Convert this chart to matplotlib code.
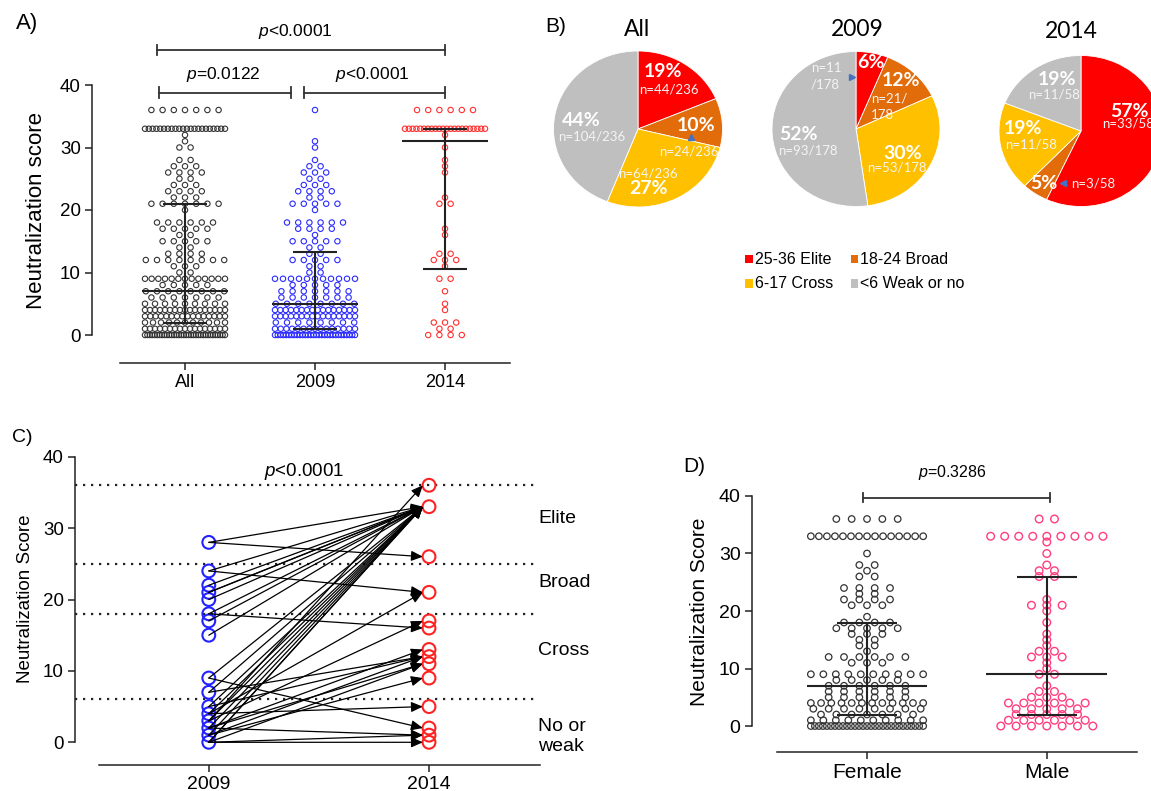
import numpy as np
import matplotlib
matplotlib.use("Agg")
import matplotlib.pyplot as plt
from matplotlib.patches import Rectangle

plt.rcParams['font.family'] = ['Liberation Sans', 'DejaVu Sans']
plt.rcParams['mathtext.fontset'] = 'custom'
plt.rcParams['mathtext.rm'] = 'Liberation Sans'
plt.rcParams['mathtext.it'] = 'Liberation Sans:italic'

# ---- data: neutralization score -> number of subjects ----
scores_2009 = [36, 31, 30, 28, 27, 26, 25, 24, 23, 22, 21, 20, 18, 17, 16, 15, 14, 13, 12, 11, 10, 9, 8, 7, 6, 5, 4, 3, 2, 1, 0]
counts_2009 = [1, 1, 1, 1, 2, 3, 2, 3, 4, 2, 5, 1, 6, 4, 1, 5, 2, 2, 5, 2, 2, 11, 5, 7, 7, 8, 16, 16, 8, 15, 30]

scores_2014 = [36, 33, 32, 30, 28, 27, 26, 22, 21, 17, 16, 13, 12, 11, 9, 7, 5, 4, 2, 1, 0]
counts_2014 = [6, 22, 1, 1, 1, 1, 1, 1, 2, 1, 1, 2, 3, 1, 2, 1, 1, 1, 3, 2, 4]

scores_female = [36, 33, 30, 28, 27, 26, 24, 23, 22, 21, 19, 18, 17, 16, 15, 14, 13, 12, 11, 9, 8, 7, 6, 5, 4, 3, 2, 1, 0]
counts_female = [5, 15, 1, 2, 1, 2, 4, 2, 4, 3, 1, 4, 5, 3, 2, 2, 1, 6, 3, 10, 5, 6, 6, 6, 12, 8, 7, 10, 29]

scores_male = [36, 33, 32, 30, 28, 27, 26, 22, 21, 20, 18, 16, 15, 14, 13, 12, 11, 10, 9, 7, 6, 5, 4, 3, 2, 1, 0]
counts_male = [2, 9, 1, 1, 1, 2, 2, 1, 3, 1, 1, 1, 1, 1, 2, 3, 1, 1, 2, 1, 2, 3, 6, 5, 5, 6, 7]

# paired subjects (panel C): score in 2009 -> score in 2014
pair_2009 = [28, 28, 24, 24, 22, 21, 21, 20, 18, 18, 17, 15, 9, 9, 7, 7, 5, 5, 4, 4, 4, 3, 3, 3, 2, 2, 2, 2, 1, 1, 1, 0, 0, 0, 0, 0]
pair_2014 = [33, 26, 33, 21, 33, 33, 33, 33, 33, 16, 33, 33, 33, 2, 12, 33, 33, 12, 33, 21, 5, 33, 36, 17, 33, 13, 11, 1, 33, 9, 12, 33, 0, 1, 33, 11]

groups_a = ['All', '2009', '2014']
groups_d = ['Female', 'Male']
cat_names = ['25-36 Elite', '18-24 Broad', '6-17 Cross', '<6 Weak or no']
cat_colors = ['#ff0000', '#e26b0a', '#ffc000', '#bfbfbf']
band_lines = [36, 25, 18, 6]
band_names = ['Elite', 'Broad', 'Cross', 'No or\nweak']

# All = 2009 + 2014
c09 = dict(zip(scores_2009, counts_2009))
c14 = dict(zip(scores_2014, counts_2014))
scores_all = sorted(set(scores_2009) | set(scores_2014), reverse=True)
counts_all = [c09.get(s, 0) + c14.get(s, 0) for s in scores_all]

W, H = 1151, 791
fig = plt.figure(figsize=(W / 100, H / 100), dpi=100)


def px_axes(l, t, r, b):
    return fig.add_axes([l / W, 1 - b / H, (r - l) / W, (b - t) / H])


def swarm(ax, x0, scores, counts, step, maxw, **kw):
    xs, ys = [], []
    for s, c in zip(scores, counts):
        if c == 1:
            off = np.array([0.0])
        else:
            d = min(step, maxw / (c - 1))
            off = (np.arange(c) - (c - 1) / 2) * d
        xs.extend(x0 + off)
        ys.extend([s] * c)
    ax.scatter(xs, ys, facecolors='none', clip_on=False, zorder=2, **kw)


def med_iqr(ax, x0, scores, counts, wmed, wcap, lw=1.5, color='#222222'):
    vals = np.repeat(scores, counts)
    q1, med, q3 = np.percentile(vals, [25, 50, 75], method='weibull')
    kw = dict(color=color, lw=lw, zorder=3, solid_capstyle='butt')
    ax.plot([x0 - wmed, x0 + wmed], [med, med], **kw)
    ax.plot([x0 - wcap, x0 + wcap], [q1, q1], **kw)
    ax.plot([x0 - wcap, x0 + wcap], [q3, q3], **kw)
    ax.plot([x0, x0], [q1, q3], **kw)


def bracket(ax, x1, x2, y, tick, color='#333333'):
    kw = dict(color=color, lw=1.3, clip_on=False)
    ax.plot([x1, x2], [y, y], **kw)
    ax.plot([x1, x1], [y - tick, y + tick], **kw)
    ax.plot([x2, x2], [y - tick, y + tick], **kw)


def prism_axes(ax, ybounds, xbounds, fs_y, fs_x):
    for s in ['top', 'right']:
        ax.spines[s].set_visible(False)
    for s in ['left', 'bottom']:
        ax.spines[s].set_linewidth(1.1)
        ax.spines[s].set_color('#222222')
    ax.spines['left'].set_bounds(*ybounds)
    ax.spines['bottom'].set_bounds(*xbounds)
    ax.set_yticks([0, 10, 20, 30, 40])
    ax.tick_params(axis='both', direction='out', length=5, width=1.1, color='#222222', pad=3)
    ax.tick_params(axis='y', labelsize=fs_y)
    ax.tick_params(axis='x', labelsize=fs_x)
    ax.patch.set_alpha(0)


# ---------------- Panel A ----------------
axA = px_axes(92, 22.5, 510, 363)
axA.set_xlim(-0.7154, 2.5)
axA.set_ylim(-4.48, 50)
prism_axes(axA, (0, 40), (-0.5, 2.5), 13.5, 13)
axA.set_xticks([0, 1, 2])
axA.set_xticklabels(groups_a)
axA.set_ylabel('Neutralization score', fontsize=16)
axA.yaxis.set_label_coords(-0.108, 0.449)

stepA, maxA = 11.2 / 130, 80 / 130
colsA = ['#333333', '#2b2bff', '#ff3030']
dataA = [(scores_all, counts_all), (scores_2009, counts_2009), (scores_2014, counts_2014)]
for i, (sc, ct) in enumerate(dataA):
    swarm(axA, i, sc, ct, stepA, maxA, s=15, edgecolors=colsA[i], linewidths=0.8)
    med_iqr(axA, i, sc, ct, 0.333, 0.167)

bracket(axA, -0.218, 2.0, 45.6, 0.75)
bracket(axA, -0.2, 0.815, 38.8, 0.9)
bracket(axA, 0.918, 2.0, 38.8, 0.9)
axA.text(0.846, 48.5, '$p$<0.0001', ha='center', va='center', fontsize=12.5)
axA.text(0.295, 41.6, '$p$=0.0122', ha='center', va='center', fontsize=12.5)
axA.text(1.444, 41.6, '$p$<0.0001', ha='center', va='center', fontsize=12.5)

# ---------------- Panel B (pies) ----------------
def cat_counts(scores, counts):
    out = [0, 0, 0, 0]
    for s, c in zip(scores, counts):
        if s >= 25:
            out[0] += c
        elif s >= 18:
            out[1] += c
        elif s >= 6:
            out[2] += c
        else:
            out[3] += c
    return out

pie_vals = [cat_counts(*d) for d in dataA]
pie_boxes = [(553.5, 51, 722.5, 207), (772, 51.5, 940, 206.5), (999, 55.5, 1163, 206.5)]
pie_title_xy = [(636.7, 30), (857, 30), (1071, 32)]
pct_pos = [[(0.295, 0.735), (0.69, 0.04), (0.128, -0.76), (-0.672, 0.115)],
           [(0.182, 0.855), (0.53, 0.63), (0.56, -0.32), (-0.685, -0.065)],
           [(0.594, 0.256), (-0.448, -0.693), (-0.707, 0.036), (-0.29, 0.685)]]
n_pos = [[(0.366, 0.509, 'center'), (0.60, -0.29, 'center'), (0.118, -0.568, 'center'), (-0.549, -0.09, 'center')],
         [(-0.54, 0.675, 'left'), (0.18, 0.285, 'left'), (0.488, -0.494, 'center'), (-0.575, -0.28, 'center')],
         [(0.568, 0.093, 'center'), (0.151, -0.693, 'center'), (-0.61, -0.185, 'center'), (-0.33, 0.477, 'center')]]
tri_pos = [(0.627, -0.106, '^'), (-0.048, 0.675, '>'), (-0.22, -0.685, '<')]

for k, vals in enumerate(pie_vals):
    ax = px_axes(*pie_boxes[k])
    ax.pie(vals, colors=cat_colors, startangle=90, counterclock=False, radius=1,
           wedgeprops=dict(edgecolor='white', linewidth=0.6))
    ax.set_aspect('auto')
    ax.set_xlim(-1, 1)
    ax.set_ylim(-1, 1)
    n = sum(vals)
    for j, c in enumerate(vals):
        pct = int(round(100 * c / n))
        px_, py_ = pct_pos[k][j]
        ax.text(px_, py_, f'{pct}%', ha='center', va='center', color='white',
                fontsize=14, fontweight='bold', family=['Lato', 'DejaVu Sans'])
        nx, ny, ha = n_pos[k][j]
        label = f'n={c}/{n}'
        if k == 1 and j == 0:
            label = f'n={c}\n/{n}'
        if k == 1 and j == 1:
            label = f'n={c}/\n{n}'
        ax.text(nx, ny, label, ha=ha, va='center', color='#f4f4f4', fontsize=9.5,
                linespacing=1.45, family=['Lato', 'DejaVu Sans'])
    tx, ty, tm = tri_pos[k]
    ax.plot(tx, ty, marker=tm, color='#4472c4', markersize=5, linestyle='none')

# ---------------- Panel C ----------------
axC = px_axes(75, 445, 540, 765)
axC.set_xlim(-0.6076, 1.504)
axC.set_ylim(-3.18, 41.64)
prism_axes(axC, (0, 40), (-0.4986, 1.504), 13.5, 14)
axC.set_xticks([0, 1])
axC.set_xticklabels(['2009', '2014'])
axC.set_ylabel('Neutralization Score', fontsize=13.5)
axC.yaxis.set_label_coords(-0.089, 0.521)

for yl in band_lines:
    axC.plot([-0.6076, 1.486], [yl, yl], color='#222222', lw=1.6, linestyle=(0, (1, 2.6)), zorder=1)
band_text_y = [31.4, 22.4, 12.8, 0.8]
for name, yt in zip(band_names, band_text_y):
    axC.text(1.495, yt, name, ha='left', va='center', fontsize=14, clip_on=False, linespacing=1.25)

u09 = np.unique(pair_2009)
u14 = np.unique(pair_2014)
axC.scatter(np.zeros(len(u09)), u09, s=85, facecolors='none', edgecolors='#2222ff', linewidths=1.5, zorder=2, clip_on=False)
axC.scatter(np.ones(len(u14)), u14, s=85, facecolors='none', edgecolors='#ff2222', linewidths=1.5, zorder=2, clip_on=False)
for a, b in zip(pair_2009, pair_2014):
    axC.annotate('', xy=(0.972, b), xytext=(0.0, a),
                 arrowprops=dict(arrowstyle='-|>,head_length=0.5,head_width=0.22', mutation_scale=14,
                                 lw=0.9, color='black', shrinkA=0, shrinkB=0), zorder=3)
axC.text(0.435, 37.9, '$p$<0.0001', ha='center', va='center', fontsize=13.5)

# ---------------- Panel D ----------------
axD = px_axes(751.7, 460, 1140, 752)
axD.set_xlim(-0.6414, 1.5184)
axD.set_ylim(-4.52, 46.26)
prism_axes(axD, (0, 40), (-0.502, 1.502), 14, 15)
axD.set_xticks([0, 1])
axD.set_xticklabels(groups_d)
axD.set_ylabel('Neutralization Score', fontsize=15)
axD.yaxis.set_label_coords(-0.109, 0.4805)

stepD, maxD = 15.3 / 179.3, 112 / 179.3
swarm(axD, 0, scores_female, counts_female, stepD, maxD, s=22, edgecolors='#333333', linewidths=0.9)
swarm(axD, 1, scores_male, counts_male, stepD, maxD, s=30, edgecolors='#ff3d7f', linewidths=1.0)
med_iqr(axD, 0, scores_female, counts_female, 0.333, 0.166)
med_iqr(axD, 1, scores_male, counts_male, 0.337, 0.166)
bracket(axD, -0.022, 1.02, 39.7, 0.8)
axD.text(0.474, 44.0, '$p$=0.3286', ha='center', va='center', fontsize=11.5)

# ---------------- overlay: panel letters, legend, titles ----------------
ov = fig.add_axes([0, 0, 1, 1])
ov.set_xlim(0, W)
ov.set_ylim(H, 0)
ov.axis('off')
ov.patch.set_alpha(0)
ov.text(16, 23, 'A)', fontsize=16, ha='left', va='center')
ov.text(545, 27, 'B)', fontsize=15, ha='left', va='center')
ov.text(12, 437, 'C)', fontsize=14, ha='left', va='center')
ov.text(683, 467, 'D)', fontsize=15, ha='left', va='center')
for (tx, ty), g in zip(pie_title_xy, groups_a):
    ov.text(tx, ty, g, fontsize=16.5, ha='center', va='center', family=['Lato', 'DejaVu Sans'])

leg_xy = [(745.3, 255), (850.8, 255), (745.3, 279.3), (850.8, 279.3)]
for (lx, ly), name, col in zip(leg_xy, cat_names, cat_colors):
    ov.add_patch(Rectangle((lx, ly), 7.5, 8.3, facecolor=col, edgecolor='none'))
    ov.text(lx + 9.5, ly + 4.3, name, fontsize=11.5, ha='left', va='center')

fig.savefig('out.png', dpi=100)
